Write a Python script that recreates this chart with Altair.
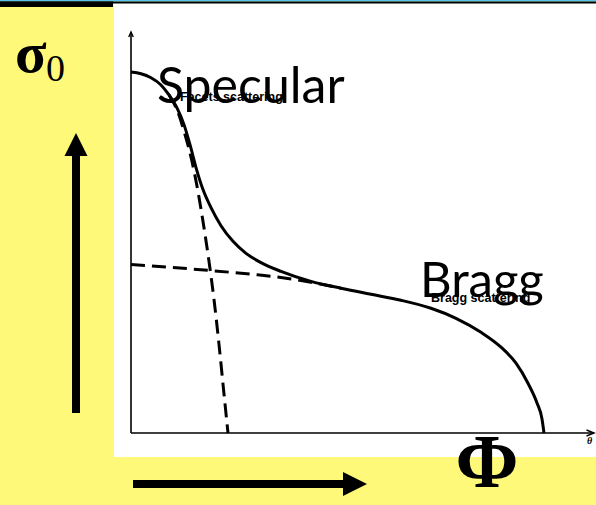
import altair as alt
import pandas as pd

# Incidence angle (deg) and normalised backscatter for the composite curve
total_theta = [0, 2, 4, 6, 7.6, 9.2, 10.6, 11.8, 13.0, 14.4, 16.0, 18.0, 20.4, 23.0,
               26.0, 30.0, 36.0, 42.0, 48.0, 54.0, 60.0, 65.0, 70.0, 74.0, 77.0,
               79.4, 81.2, 82.2, 82.6]
total_sigma = [90.0, 89.6, 88.6, 86.8, 84.3, 81.1, 76.9, 71.9, 66.2, 60.7, 56.2, 51.7,
               47.8, 44.8, 42.5, 40.3, 37.8, 36.1, 34.6, 33.1, 31.1, 28.6, 25.1, 21.4,
               17.4, 12.4, 7.5, 3.5, 0.0]

# Facet (specular) contribution
facet_theta = [7.6, 9.2, 10.8, 12.2, 13.4, 14.6, 15.6, 16.6, 17.6, 18.6, 19.4]
facet_sigma = [84.3, 80.6, 74.4, 67.7, 60.2, 51.2, 42.8, 33.3, 22.1, 9.7, 0.0]

# Bragg contribution
bragg_theta = [0, 8, 16, 24, 30, 36, 42]
bragg_sigma = [42.0, 41.3, 40.5, 39.6, 38.8, 37.6, 36.1]

# axis extents (theta max, sigma max)
axis_theta_end = 92.6
axis_sigma_end = 100

YELLOW = "#FFF97A"
W, H = 596, 505

xs = alt.Scale(domain=[0, 90], range=[131, 581])
ys = alt.Scale(domain=[0, 100], range=[433, 32])
X = alt.X("theta:Q", scale=xs, axis=None)
Y = alt.Y("sigma:Q", scale=ys, axis=None)

one = pd.DataFrame({"k": [0]})


def curve(t, s):
    return pd.DataFrame({"theta": t, "sigma": s, "i": list(range(len(t)))})


def pt(t, s):
    return pd.DataFrame({"theta": [t], "sigma": [s]})


# frame: white panel, header strips
panel = alt.Chart(one).mark_rect(color="white").encode(
    x=alt.value(114), x2=alt.value(W), y=alt.value(3), y2=alt.value(457))
blue_strip = alt.Chart(one).mark_rect(color="#55C4F0").encode(
    x=alt.value(0), x2=alt.value(W), y=alt.value(0), y2=alt.value(1.5))
black_strip = alt.Chart(one).mark_rect(color="black").encode(
    x=alt.value(0), x2=alt.value(W), y=alt.value(1.5), y2=alt.value(3.5))
black_block = alt.Chart(one).mark_rect(color="black").encode(
    x=alt.value(0), x2=alt.value(113), y=alt.value(1.5), y2=alt.value(7))

# axes with open arrowheads
y_axis = alt.Chart(curve([0, 0], [0, axis_sigma_end])).mark_line(
    color="black", strokeWidth=1.6).encode(x=X, y=Y, order="i:Q")
x_axis = alt.Chart(curve([0, axis_theta_end], [0, 0])).mark_line(
    color="black", strokeWidth=1.6).encode(x=X, y=Y, order="i:Q")
y_head = alt.Chart(pt(0, axis_sigma_end)).mark_point(
    shape="M-0.45,1L0,0L0.45,1", filled=False, stroke="black", strokeWidth=1.4,
    size=100, opacity=1).encode(x=X, y=Y)
x_head = alt.Chart(pt(axis_theta_end, 0)).mark_point(
    shape="M-1,-0.4L0,0L-1,0.4", filled=False, stroke="black", strokeWidth=1.4,
    size=225, opacity=1).encode(x=X, y=Y)

# curves
total_line = alt.Chart(curve(total_theta, total_sigma)).mark_line(
    color="black", strokeWidth=3, interpolate="monotone").encode(x=X, y=Y, order="i:Q")
facet_line = alt.Chart(curve(facet_theta, facet_sigma)).mark_line(
    color="black", strokeWidth=3, strokeDash=[14, 7], interpolate="monotone").encode(
    x=X, y=Y, order="i:Q")
bragg_line = alt.Chart(curve(bragg_theta, bragg_sigma)).mark_line(
    color="black", strokeWidth=3, strokeDash=[14, 7], interpolate="monotone").encode(
    x=X, y=Y, order="i:Q")


def label(text, t, s, size, font, weight="normal", style="normal", baseline="alphabetic"):
    return alt.Chart(pt(t, s)).mark_text(
        text=text, fontSize=size, font=font, fontWeight=weight, fontStyle=style,
        align="left", baseline=baseline, color="black").encode(x=X, y=Y)


facets_small = label("Facets scattering", 9.8, 83.8, 12.5, "Liberation Sans", "bold", baseline="middle")
bragg_small = label("Bragg scattering", 60.0, 33.7, 12.5, "Liberation Sans", "bold", baseline="middle")
specular = label("Specular", 5.2, 82.3, 50, "Lato")
bragg = label("Bragg", 57.8, 33.9, 49, "Lato")
theta_lbl = label("θ", 91.2, -2.8, 10, "Liberation Serif", "bold", "italic")

# big margin arrows and symbols
up_shaft = alt.Chart(one).mark_rule(color="black", strokeWidth=8, strokeCap="butt").encode(
    x=alt.value(76), y=alt.value(413), y2=alt.value(154))
up_head = alt.Chart(one).mark_point(
    shape="M-1,1L0,-1L1,1Z", filled=True, color="black", size=529, opacity=1).encode(
    x=alt.value(76), y=alt.value(144.5))
right_shaft = alt.Chart(one).mark_rule(color="black", strokeWidth=8, strokeCap="butt").encode(
    x=alt.value(133), x2=alt.value(345), y=alt.value(484))
right_head = alt.Chart(one).mark_point(
    shape="M-1,-1L1,0L-1,1Z", filled=True, color="black", size=576, opacity=1).encode(
    x=alt.value(355), y=alt.value(484))

sigma_sym = alt.Chart(one).mark_text(
    text="σ", fontSize=58, font="Liberation Serif", fontWeight="bold", align="left",
    baseline="alphabetic", color="black").encode(x=alt.value(15), y=alt.value(72))
sigma_sub = alt.Chart(one).mark_text(
    text="0", fontSize=38, font="Liberation Serif", align="left", baseline="alphabetic",
    color="black").encode(x=alt.value(46), y=alt.value(81))
phi_sym = alt.Chart(one).mark_text(
    text="Φ", fontSize=76, font="Liberation Serif", fontWeight="bold", align="center",
    baseline="alphabetic", color="black").encode(x=alt.value(487), y=alt.value(487))

chart = alt.layer(
    panel, blue_strip, black_strip, black_block,
    y_axis, x_axis, y_head, x_head,
    bragg_line, facet_line, total_line,
    facets_small, bragg_small, specular, bragg, theta_lbl,
    up_shaft, up_head, right_shaft, right_head,
    sigma_sym, sigma_sub, phi_sym,
).properties(
    width=W, height=H, background=YELLOW, padding=0, autosize="none"
).configure_view(stroke=None)

chart.save("out.html", embed_options={"renderer": "svg", "actions": False})
